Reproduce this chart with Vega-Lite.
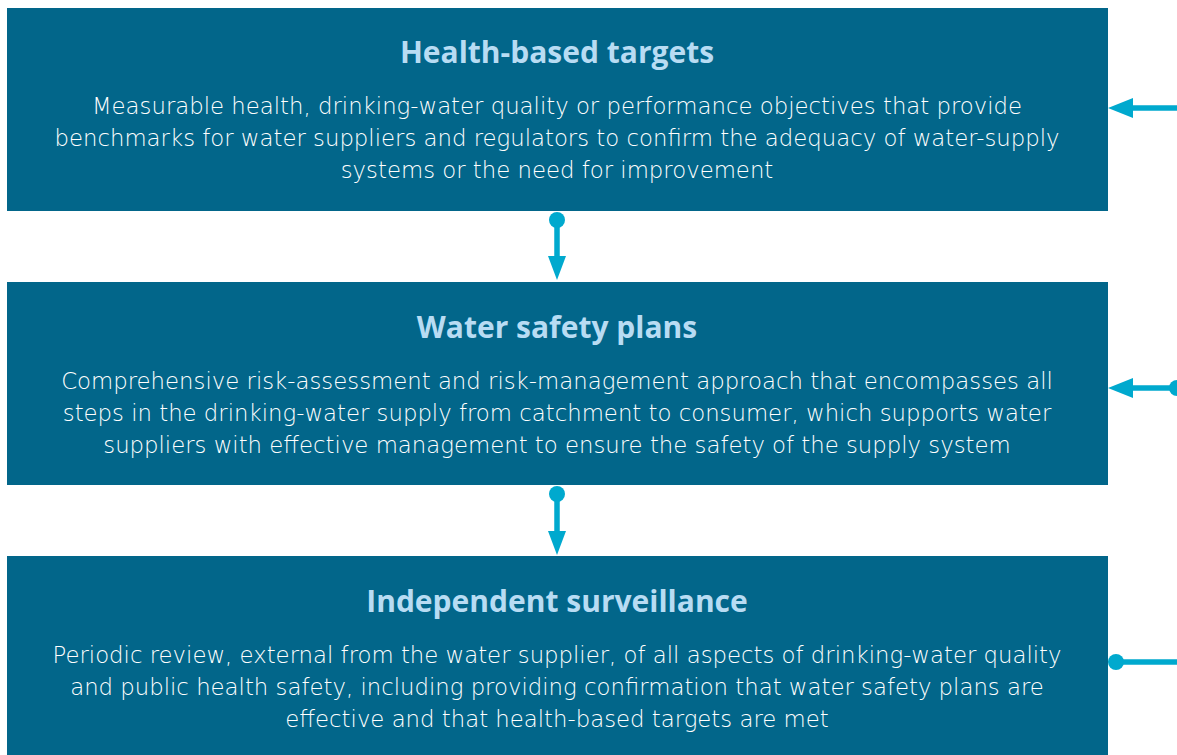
{
  "$schema": "https://vega.github.io/schema/vega-lite/v6.json",
  "width": 1177,
  "height": 755,
  "padding": 0,
  "autosize": {"type": "none"},
  "background": "#ffffff",
  "config": {"view": {"stroke": null}},
  "datasets": {
    "boxes": [
      {"name": "Health-based targets", "x": 7, "x2": 1108, "y": 8, "y2": 211},
      {"name": "Water safety plans", "x": 7, "x2": 1108, "y": 282, "y2": 485},
      {"name": "Independent surveillance", "x": 7, "x2": 1108, "y": 556, "y2": 755}
    ],
    "texts": [
      {"kind": "title", "x": 557, "y": 54, "text": "Health-based targets"},
      {"kind": "body", "x": 557, "y": 107, "text": "Measurable health, drinking-water quality or performance objectives that provide"},
      {"kind": "body", "x": 557, "y": 139, "text": "benchmarks for water suppliers and regulators to confirm the adequacy of water-supply"},
      {"kind": "body", "x": 557, "y": 171, "text": "systems or the need for improvement"},
      {"kind": "title", "x": 557, "y": 329, "text": "Water safety plans"},
      {"kind": "body", "x": 557, "y": 382, "text": "Comprehensive risk-assessment and risk-management approach that encompasses all"},
      {"kind": "body", "x": 557, "y": 414, "text": "steps in the drinking-water supply from catchment to consumer, which supports water"},
      {"kind": "body", "x": 557, "y": 446, "text": "suppliers with effective management to ensure the safety of the supply system"},
      {"kind": "title", "x": 557, "y": 603, "text": "Independent surveillance"},
      {"kind": "body", "x": 557, "y": 656, "text": "Periodic review, external from the water supplier, of all aspects of drinking-water quality"},
      {"kind": "body", "x": 557, "y": 688, "text": "and public health safety, including providing confirmation that water safety plans are"},
      {"kind": "body", "x": 557, "y": 720, "text": "effective and that health-based targets are met"}
    ],
    "segments": [
      {"x": 557, "x2": 557, "y": 220, "y2": 258},
      {"x": 557, "x2": 557, "y": 494, "y2": 532},
      {"x": 1130, "x2": 1177, "y": 108, "y2": 108},
      {"x": 1130, "x2": 1177, "y": 388, "y2": 388},
      {"x": 1116, "x2": 1177, "y": 662, "y2": 662}
    ],
    "dots": [
      {"x": 557, "y": 220},
      {"x": 557, "y": 494},
      {"x": 1116, "y": 662},
      {"x": 1177, "y": 388}
    ],
    "downHeads": [
      {"x": 557, "y": 268},
      {"x": 557, "y": 543}
    ],
    "leftHeads": [
      {"x": 1120.5, "y": 108},
      {"x": 1120.5, "y": 388}
    ]
  },
  "layer": [
    {
      "data": {"name": "boxes"},
      "mark": {"type": "rect", "color": "#02668A"},
      "encoding": {
        "x": {"field": "x", "type": "quantitative", "scale": {"domain": [0, 1177], "nice": false, "zero": false}, "axis": null},
        "x2": {"field": "x2"},
        "y": {"field": "y", "type": "quantitative", "scale": {"domain": [0, 755], "nice": false, "zero": false, "reverse": true}, "axis": null},
        "y2": {"field": "y2"}
      }
    },
    {
      "data": {"name": "segments"},
      "mark": {"type": "rule", "color": "#00A9CE", "strokeWidth": 5.5},
      "encoding": {
        "x": {"field": "x", "type": "quantitative"},
        "x2": {"field": "x2"},
        "y": {"field": "y", "type": "quantitative"},
        "y2": {"field": "y2"}
      }
    },
    {
      "data": {"name": "dots"},
      "mark": {"type": "point", "shape": "circle", "filled": true, "color": "#00A9CE", "opacity": 1, "size": 256},
      "encoding": {
        "x": {"field": "x", "type": "quantitative"},
        "y": {"field": "y", "type": "quantitative"}
      }
    },
    {
      "data": {"name": "downHeads"},
      "mark": {"type": "point", "shape": "M-0.75,-1L0.75,-1L0,1Z", "filled": true, "color": "#00A9CE", "opacity": 1, "size": 576},
      "encoding": {
        "x": {"field": "x", "type": "quantitative"},
        "y": {"field": "y", "type": "quantitative"}
      }
    },
    {
      "data": {"name": "leftHeads"},
      "mark": {"type": "point", "shape": "M-1,0L1,-0.8L1,0.8Z", "filled": true, "color": "#00A9CE", "opacity": 1, "size": 625},
      "encoding": {
        "x": {"field": "x", "type": "quantitative"},
        "y": {"field": "y", "type": "quantitative"}
      }
    },
    {
      "data": {"name": "texts"},
      "transform": [{"filter": "datum.kind === 'title'"}],
      "mark": {"type": "text", "font": "Open Sans", "fontWeight": "bold", "fontSize": 30, "color": "#B8DCF3", "align": "center", "baseline": "middle"},
      "encoding": {
        "x": {"field": "x", "type": "quantitative"},
        "y": {"field": "y", "type": "quantitative"},
        "text": {"field": "text"}
      }
    },
    {
      "data": {"name": "texts"},
      "transform": [{"filter": "datum.kind === 'body'"}],
      "mark": {"type": "text", "font": "DejaVu Sans", "fontWeight": 200, "fontSize": 22.8, "color": "#FFFFFF", "align": "center", "baseline": "middle"},
      "encoding": {
        "x": {"field": "x", "type": "quantitative"},
        "y": {"field": "y", "type": "quantitative"},
        "text": {"field": "text"}
      }
    }
  ]
}
